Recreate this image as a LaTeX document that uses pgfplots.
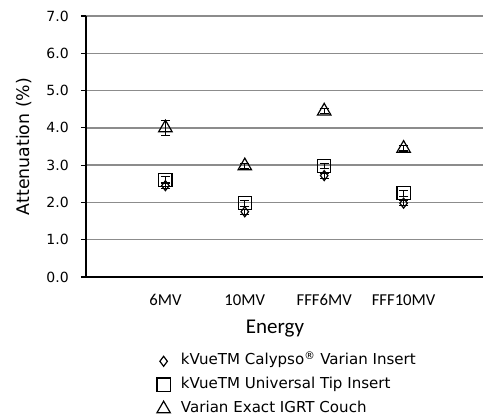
\documentclass[border=0pt]{standalone}
\usepackage{pgfplots}
\pgfplotsset{compat=1.18}
\usepackage{fontspec}
\setmainfont{DejaVu Sans}
\newfontfamily\calibri{Carlito}

\begin{document}
\begin{tikzpicture}
% canvas: 1 px = 0.75 pt
\useasboundingbox (-64.5pt,-104.25pt) rectangle (298.5pt,207.75pt);
\begin{axis}[
  scale only axis,
  width=297.75pt, height=195.75pt,
  xmin=0, xmax=5,
  ymin=0, ymax=7,
  xtick={1,2,3,4},
  xticklabels={6MV,10MV,FFF6MV,FFF10MV},
  ytick={0,1,...,7},
  axis x line*=bottom,
  axis y line*=left,
  axis line style={black, line width=0.9pt, -},
  ymajorgrids,
  major grid style={black!45, line width=1pt},
  tick align=outside,
  major tick length=3.75pt,
  xtick style={draw=none},
  ytick style={black, line width=0.8pt},
  /pgf/number format/.cd, fixed, fixed zerofill, precision=1, assume math mode=true,
  /pgfplots/.cd,
  y tick label style={font=\fontsize{10.5}{12}\selectfont, anchor=east, inner sep=0pt, xshift=-9pt},
  x tick label style={font=\calibri\fontsize{12.5}{14}\selectfont, anchor=base, inner sep=0pt, yshift=-18pt},
  ylabel={Attenuation (\%)},
  ylabel style={font=\fontsize{13}{15}\selectfont, at={(axis description cs:-0.157,0.5)}, anchor=center},
  xlabel={Energy},
  xlabel style={font=\calibri\fontsize{15.75}{18}\selectfont, at={(axis description cs:0.476,0)}, anchor=base, yshift=-42pt},
  legend style={draw=none, fill=none, at={(axis description cs:0.178,-0.295)}, anchor=north west,
    font=\fontsize{11.3}{13}\selectfont, inner sep=0pt,
    nodes={inner sep=0pt, text height=8pt, text depth=2.5pt}, row sep=7.1pt, column sep=8pt},
  legend cell align=left,
  clip=false,
]
\addplot+[only marks, black, mark=diamond, mark size=3.75pt,
  mark options={fill=white, line width=0.9pt, solid},
  error bars/.cd, y dir=both, y explicit,
  error bar style={black, line width=0.8pt},
  error mark options={rotate=90, mark size=3.5pt, black, line width=0.8pt}]
  coordinates {(1,2.45) +- (0,0.08) (2,1.75) +- (0,0.07) (3,2.72) +- (0,0.07) (4,1.98) +- (0,0.07)};
\addlegendentry{kVueTM Calypso\textsuperscript{®} Varian Insert}
\addplot+[only marks, black, mark=square, mark size=5pt,
  mark options={fill=white, line width=0.9pt, solid},
  error bars/.cd, y dir=both, y explicit,
  error bar style={black, line width=0.8pt},
  error mark options={rotate=90, mark size=3.5pt, black, line width=0.8pt}]
  coordinates {(1,2.6) +- (0,0.1) (2,1.98) +- (0,0.08) (3,2.98) +- (0,0.07) (4,2.25) +- (0,0.08)};
\addlegendentry{kVueTM Universal Tip Insert}
\addplot+[only marks, black, mark=triangle, mark size=5.8pt,
  mark options={fill=white, line width=0.9pt, solid},
  error bars/.cd, y dir=both, y explicit,
  error bar style={black, line width=0.8pt},
  error mark options={rotate=90, mark size=3.5pt, black, line width=0.8pt}]
  coordinates {(1,4.0) +- (0,0.2) (2,2.98) +- (0,0.07) (3,4.45) +- (0,0.07) (4,3.45) +- (0,0.07)};
\addlegendentry{Varian Exact IGRT Couch}
\end{axis}
\end{tikzpicture}
\end{document}
